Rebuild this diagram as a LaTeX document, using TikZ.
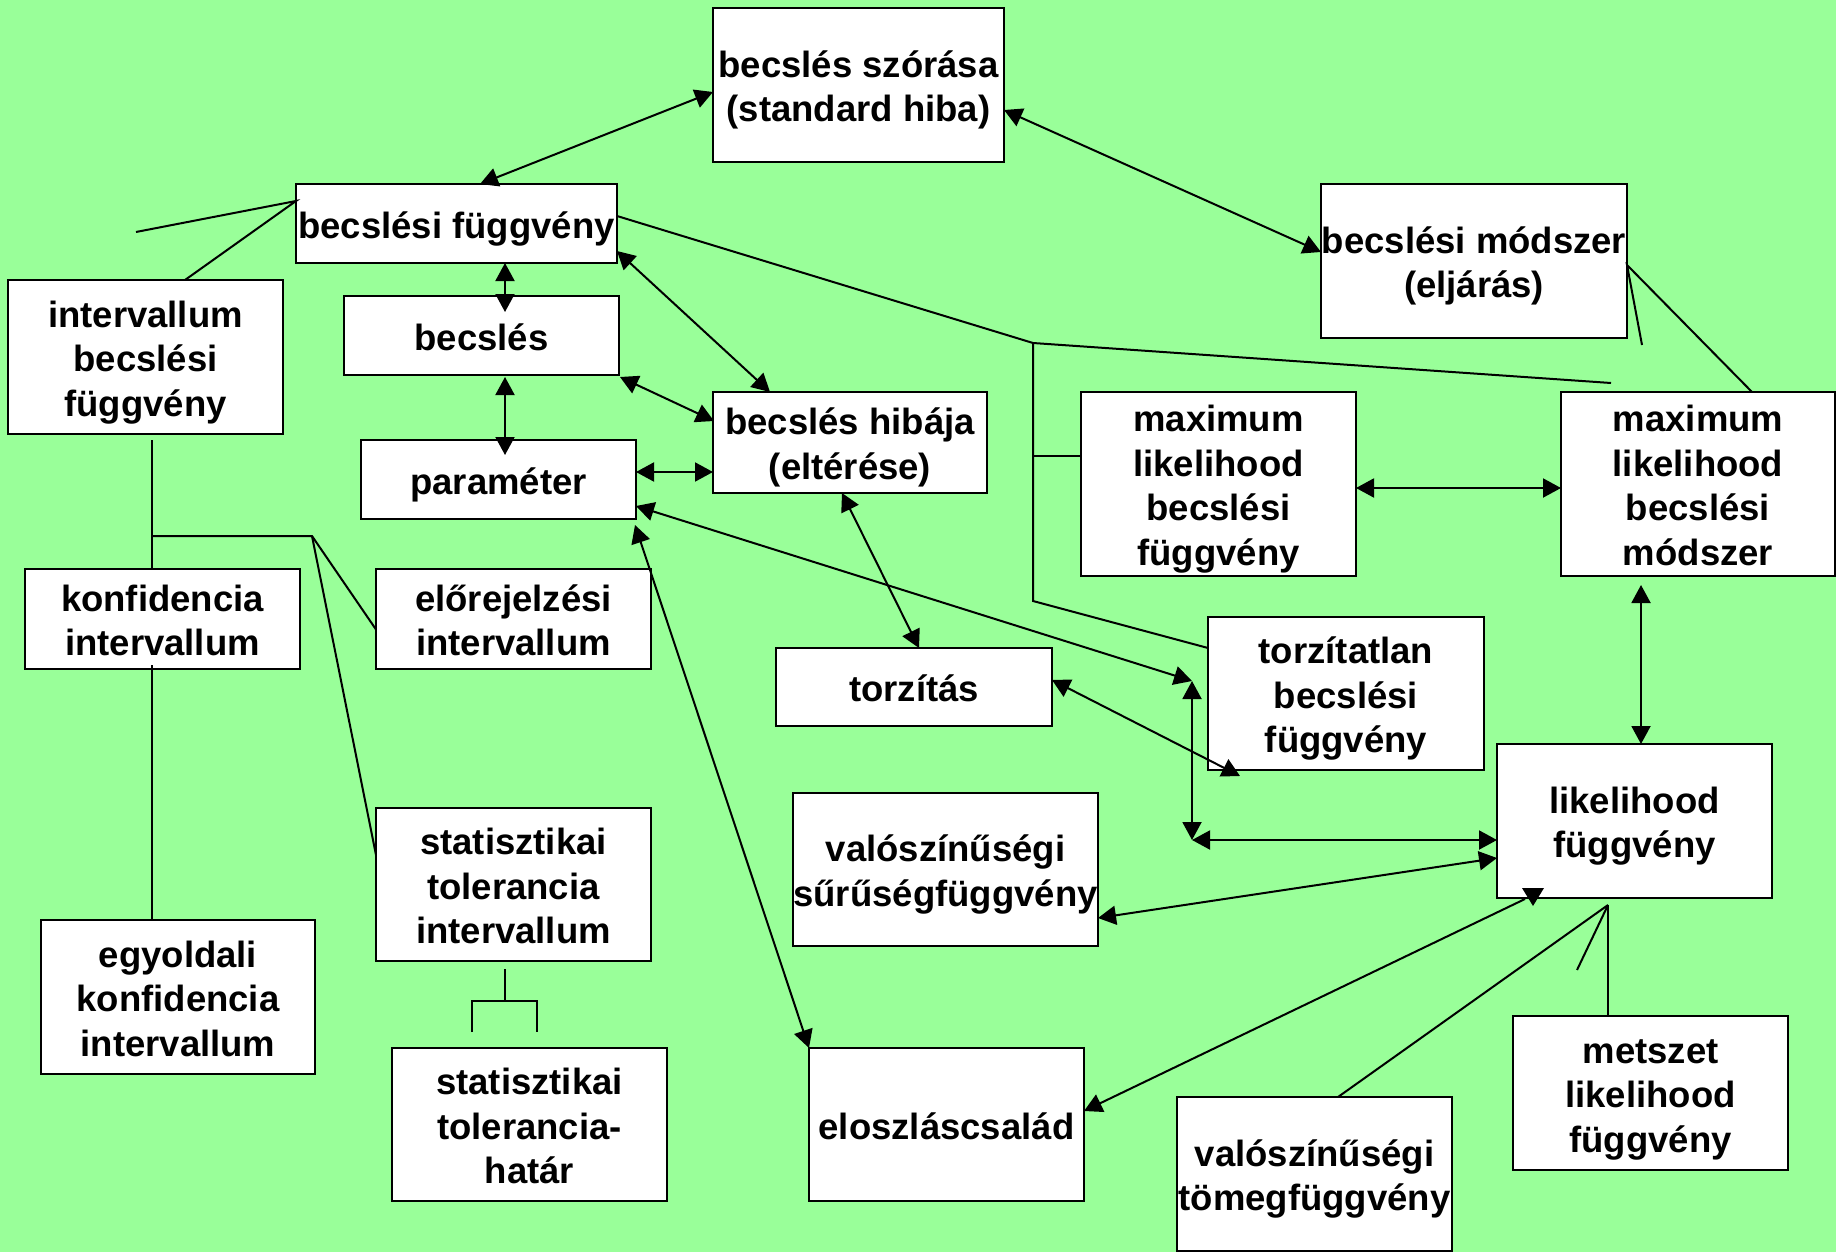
\documentclass[tikz,border=0pt]{standalone}
\usepackage{fontspec}
\usepackage{array}
\setmainfont{Liberation Sans}
\usetikzlibrary{arrows.meta}
\definecolor{bggreen}{RGB}{153,255,153}
% every text line gets the same fixed line box
\newcommand\lnstrut{\rule[-7.75pt]{0pt}{44.5pt}}
\newcommand\lbl[1]{{\renewcommand\arraystretch{0}%
  \begin{tabular}{@{}>{\lnstrut}c@{}}#1\end{tabular}}}
\begin{document}
\begin{tikzpicture}[x=1pt,y=-1pt,
  box/.style={draw, line width=2pt, fill=white, inner sep=0pt, outer sep=0pt,
    font=\bfseries\fontsize{36.5pt}{44.5pt}\selectfont},
  conn/.style={line width=2pt},
  tip/.tip={Triangle[length=18pt,width=19pt]},
  dbl/.style={conn, tip-tip},
]
\fill[bggreen] (0,0) rectangle (1836,1252);
\useasboundingbox (0,0) rectangle (1836,1252);

% concept boxes
\node[box, minimum width=291pt, minimum height=154pt] (sz)   at (858.5,85)    {\lbl{becslés szórása\\(standard hiba)}};
\node[box, minimum width=321pt, minimum height=79pt]  (bf)   at (456.5,223.5) {\lbl{becslési függvény}};
\node[box, minimum width=306pt, minimum height=154pt] (bm)   at (1474,261)    {\lbl{becslési módszer\\(eljárás)}};
\node[box, minimum width=275pt, minimum height=154pt] (ibf)  at (145.5,357)   {\lbl{intervallum\\becslési\\függvény}};
\node[box, minimum width=275pt, minimum height=79pt]  (becs) at (481.5,335.5) {\lbl{becslés}};
\node[box, minimum width=275pt, minimum height=79pt]  (par)  at (498.5,479.5) {\lbl{paraméter}};
\node[box, minimum width=274pt, minimum height=101pt] (hib)  at (850,442.5)   {\lbl{becslés hibája\\(eltérése)}};
\node[box, minimum width=275pt, minimum height=184pt] (mlbf) at (1218.5,484)  {\lbl{maximum\\likelihood\\becslési\\függvény}};
\node[box, minimum width=274pt, minimum height=184pt] (mlbm) at (1698,484)    {\lbl{maximum\\likelihood\\becslési\\módszer}};
\node[box, minimum width=275pt, minimum height=100pt] (konf) at (162.5,619)   {\lbl{konfidencia\\intervallum}};
\node[box, minimum width=275pt, minimum height=100pt] (elo)  at (513.5,619)   {\lbl{előrejelzési\\intervallum}};
\node[box, minimum width=276pt, minimum height=78pt]  (tor)  at (914,687)     {\lbl{torzítás}};
\node[box, minimum width=276pt, minimum height=153pt] (tbf)  at (1346,693.5)  {\lbl{torzítatlan\\becslési\\függvény}};
\node[box, minimum width=275pt, minimum height=154pt] (lf)   at (1634.5,821)  {\lbl{likelihood\\függvény}};
\node[box, minimum width=305pt, minimum height=153pt] (vsf)  at (945.5,869.5) {\lbl{valószínűségi\\sűrűségfüggvény}};
\node[box, minimum width=275pt, minimum height=153pt] (sti)  at (513.5,884.5) {\lbl{statisztikai\\tolerancia\\intervallum}};
\node[box, minimum width=274pt, minimum height=154pt] (ekf)  at (178,997)     {\lbl{egyoldali\\konfidencia\\intervallum}};
\node[box, minimum width=275pt, minimum height=153pt] (sth)  at (529.5,1124.5){\lbl{statisztikai\\tolerancia-\\határ}};
\node[box, minimum width=275pt, minimum height=153pt] (elc)  at (946.5,1124.5){\lbl{eloszláscsalád}};
\node[box, minimum width=275pt, minimum height=154pt] (vtf)  at (1314.5,1174) {\lbl{valószínűségi\\tömegfüggvény}};
\node[box, minimum width=275pt, minimum height=154pt] (mlf)  at (1650.5,1093) {\lbl{metszet\\likelihood\\függvény}};

% junction and free-end points
\coordinate (c1) at (1033,343);
\coordinate (c2) at (1611,383);
\coordinate (c3) at (1033,601);
\coordinate (c4) at (1033,456);
\coordinate (d1) at (1642,345);
\coordinate (e1) at (136,232);
\coordinate (j1) at (1192,681);
\coordinate (j2) at (1192,840);
\coordinate (r1) at (1577,970);
\coordinate (u0) at (152,536);
\coordinate (u1) at (312,536);
\coordinate (v0) at (504.5,1001);
\coordinate (vl) at (472,1001);
\coordinate (vr) at (537,1001);
\coordinate (vld) at (472,1032);
\coordinate (vrd) at (537,1032);

% arrows among the point-estimation concepts
\draw[dbl] ([xshift=184pt]bf.north west) -- ([yshift=-7pt]sz.west);
\draw[dbl] ([yshift=-25pt]sz.east) -- ([yshift=9pt]bm.west);
\draw[dbl] ([xshift=209pt]bf.south west) -- ([xshift=161pt,yshift=-16pt]becs.north west);
\draw[dbl] ([xshift=161pt,yshift=-2pt]becs.south west) -- ([xshift=144pt,yshift=-15pt]par.north west);
\draw[dbl] ([yshift=-27.5pt]bf.east) -- ([xshift=57pt]hib.north west);
\draw[dbl] ([xshift=1pt,yshift=-2pt]becs.south east) -- ([xshift=1pt,yshift=21.5pt]hib.west);
\draw[dbl] ([yshift=7.5pt]par.east) -- ([yshift=-29.5pt]hib.west);
\draw[dbl] ([yshift=-26.5pt]par.east) -- (j1);
\draw[dbl] ([xshift=-1pt,yshift=-6pt]par.south east) -- (elc.north west);
\draw[dbl] ([xshift=129pt]hib.south west) -- ([xshift=143pt]tor.north west);
\draw[dbl] ([yshift=7pt]tor.east) -- ([xshift=32pt,yshift=-6pt]tbf.south west);
\draw[dbl] (j1) -- (j2);
\draw[dbl] (j2) -- ([yshift=-19pt]lf.west);
\draw[dbl] ([yshift=-37pt]lf.west) -- ([yshift=-48.5pt]vsf.east);
\draw[conn, tip-] ([yshift=13.5pt]elc.east) -- ([xshift=28pt,yshift=-1pt]lf.south west);
\fill ([xshift=25pt,yshift=10pt]lf.south west) -- ++(22,0) -- ++(-11,18) -- cycle;
\draw[dbl] ([yshift=-4pt]mlbf.east) -- ([yshift=-4pt]mlbm.west);
\draw[dbl] ([xshift=80pt,yshift=-9pt]mlbm.south west) -- ([xshift=144pt]lf.north west);

% plain link lines
\draw[conn] ([yshift=7.5pt]bf.east) -- (c1) -- (c2);
\draw[conn] (c1) -- (c3) -- ([yshift=-31pt]tbf.north west);
\draw[conn] (c4) -- ([yshift=28pt]mlbf.west);
\draw[conn] (d1) -- ([yshift=-4pt]bm.east) -- ([xshift=191pt]mlbm.north west);
\draw[conn] (e1) -- ([yshift=22.5pt]bf.west) -- ([xshift=177pt]ibf.north west);
\draw[conn] ([xshift=111pt,yshift=-7pt]lf.south west) coordinate (r0) -- ([xshift=161pt]vtf.north west);
\draw[conn] (r0) -- ([xshift=95pt]mlf.north west);
\draw[conn] (r0) -- (r1);

% interval estimation tree
\draw[conn] ([xshift=144pt,yshift=-6pt]ibf.south west) -- (u0) -- ([xshift=127pt]konf.north west);
\draw[conn] (u0) -- (u1) -- ([yshift=-10.5pt]elo.west);
\draw[conn] (u1) -- ([yshift=29.5pt]sti.west);
\draw[conn] ([xshift=127pt,yshift=4pt]konf.south west) -- ([xshift=111pt]ekf.north west);
\draw[conn] ([xshift=128.5pt,yshift=-8pt]sti.south west) -- (v0);
\draw[conn] (vld) -- (vl) -- (vr) -- (vrd);
\end{tikzpicture}
\end{document}
